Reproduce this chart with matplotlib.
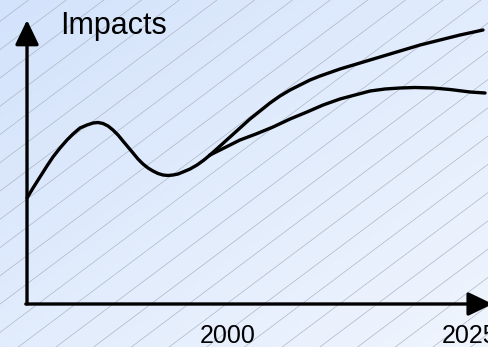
import numpy as np
import matplotlib
matplotlib.use("Agg")
import matplotlib.pyplot as plt
from matplotlib.colors import LinearSegmentedColormap

# ---- data: impact index over time ----
shared_years = [1979.29, 1979.91, 1980.63, 1981.35, 1981.97, 1982.70, 1983.42,
                1984.04, 1984.76, 1985.49, 1986.11, 1986.62, 1987.14, 1987.66,
                1988.17, 1988.69, 1989.20, 1989.72, 1990.24, 1990.75, 1991.27,
                1991.79, 1992.30, 1992.82, 1993.34, 1993.85, 1994.37, 1994.89,
                1995.40, 1996.13, 1996.85, 1997.57, 1998.19]
shared_impact = [106, 116, 127, 138, 147, 156, 164,
                 170, 176, 179, 181, 181.5, 180.5, 178,
                 174, 169, 163, 157, 151, 145, 140,
                 136, 133, 130.5, 129, 128.5, 129, 130,
                 132, 135, 139, 144, 149]

high_years = [1998.19, 1999.23, 2000.26, 2001.29, 2002.32, 2003.36, 2004.39,
              2005.42, 2006.46, 2007.49, 2008.52, 2009.56, 2011.62, 2013.69,
              2015.75, 2017.82, 2019.89, 2021.95, 2024.02, 2026.39]
high_impact = [149, 158, 167, 176, 185, 193, 201,
               208, 214, 219, 224, 228, 235, 241,
               247, 253, 259, 264, 269, 274]

low_years = [1998.19, 1999.23, 2000.26, 2001.29, 2002.94, 2004.70, 2006.46,
             2008.21, 2009.87, 2011.62, 2013.17, 2014.73, 2016.27, 2017.82,
             2019.37, 2021.23, 2022.99, 2025.05, 2026.60]
low_impact = [149, 154, 159, 164, 170, 177, 185,
              192, 199, 205, 209, 213, 215, 216,
              216.5, 216, 214.5, 212, 211]

tick_years = [2000, 2025]
y_label = "Impacts"

W, H = 489, 347
fig = plt.figure(figsize=(W / 100, H / 100), dpi=100)

# ---- background: diagonal gradient with thin hatch lines ----
bg = fig.add_axes([0, 0, 1, 1])
bg.set_xlim(0, W)
bg.set_ylim(H, 0)
bg.axis("off")
gx, gy = np.meshgrid(np.linspace(0, 1, 200), np.linspace(0, 1, 150))
grad = (gx + gy) / 2
cmap = LinearSegmentedColormap.from_list("bgfade", ["#d3e3fb", "#f0f5fe"])
bg.imshow(grad, cmap=cmap, extent=(0, W, H, 0), aspect="auto", zorder=0)

slope = 0.75
spacing = 37.7
for c in np.arange(28.5, W + H / slope + spacing, spacing):
    bg.plot([c, c - H / slope], [0, H], color="#a9b1c0", lw=0.45, zorder=1)

# ---- main chart ----
ax = fig.add_axes([0, 0, 1, 1])
ax.patch.set_alpha(0)
ax.axis("off")
ax.set_xlim(1976.50, 2027.01)
ax.set_ylim(-43, 304)

x0 = shared_years[0]
arrow = dict(arrowstyle="-|>,head_length=1.5,head_width=0.72", lw=2.4,
             color="black", shrinkA=0, shrinkB=0, mutation_scale=10)
# axes drawn as arrows
ax.annotate("", xy=(x0, 284), xytext=(x0, 0), annotation_clip=False,
            arrowprops=arrow)
ax.annotate("", xy=(2027.4, 0), xytext=(x0 - 0.12, 0), annotation_clip=False,
            arrowprops=arrow)

for xs, ys in [(shared_years, shared_impact), (high_years, high_impact),
               (low_years, low_impact)]:
    ax.plot(xs, ys, color="black", lw=2.4,
            solid_capstyle="round", solid_joinstyle="round")

font = ["Liberation Sans", "DejaVu Sans"]
ax.text(1982.75, 270, y_label, fontsize=22, family=font,
        ha="left", va="baseline")
for yr in tick_years:
    ax.text(yr, -39, str(yr), fontsize=18, family=font,
            ha="center", va="baseline")

fig.savefig("out.png", dpi=100)
